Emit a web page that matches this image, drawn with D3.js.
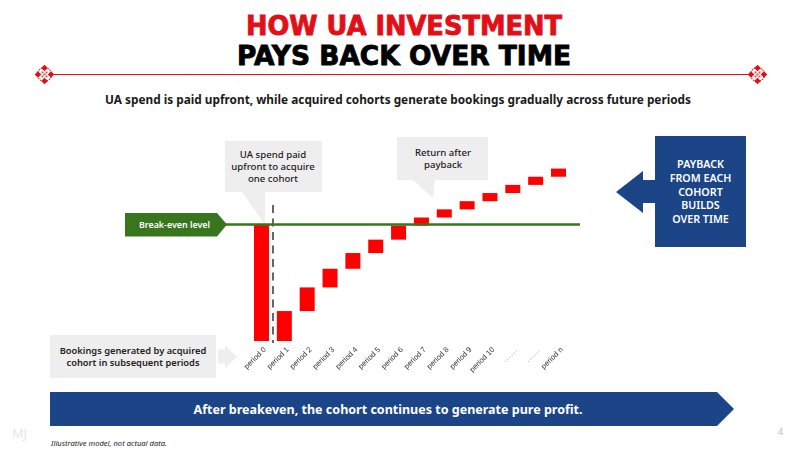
<!DOCTYPE html>
<html><head><meta charset="utf-8">
<script src="https://cdn.jsdelivr.net/npm/d3@7/dist/d3.min.js"></script>
<style>html,body{margin:0;padding:0;background:#fff}svg{display:block}</style>
</head><body><svg id="c" width="800" height="450"></svg>
<script>
const periodLabels = ["period 0","period 1","period 2","period 3","period 4","period 5","period 6","period 7","period 8","period 9","period 10","......","......","period n"];
const upfrontSpend = [100];
const cohortBookings = [25.7,20.3,16,13.5,11.5,12,7,7,7,7,7,7,7];
const breakEven = 100;
const titleLines = ["HOW UA INVESTMENT","PAYS BACK OVER TIME"];
const subtitle = "UA spend is paid upfront, while acquired cohorts generate bookings gradually across future periods";
const calloutSpend = ["UA spend paid","upfront to acquire","one cohort"];
const calloutReturn = ["Return after","payback"];
const calloutBookings = ["Bookings generated by acquired","cohort in subsequent periods"];
const sideLines = ["PAYBACK","FROM EACH","COHORT","BUILDS","OVER TIME"];

const RED="#ff0000", TITLE_RED="#e20f17", GREEN="#38761d", BLUE="#1c4587", GREY="#eeeeee", INK="#1a1a1a";
const BODY="'Noto Sans',sans-serif";
const svg=d3.select("#c");

const x=d3.scaleBand().domain(d3.range(periodLabels.length)).range([254,566]).paddingInner(0.344).paddingOuter(0);
const y=d3.scaleLinear().domain([0,100]).range([341,224.5]);

function label(t,px,py,size,weight,fill,opts={}){
  const e=svg.append("text").attr("x",px).attr("y",py).attr("font-size",size).attr("font-weight",weight)
    .attr("fill",fill).attr("font-family",opts.family||BODY).attr("text-anchor",opts.anchor||"middle").text(t);
  if(opts.len) e.attr("textLength",opts.len).attr("lengthAdjust",opts.adjust||"spacingAndGlyphs");
  if(opts.style) e.attr("font-style",opts.style);
  if(opts.stroke) e.attr("stroke",fill).attr("stroke-width",opts.stroke).attr("stroke-linejoin","miter");
  return e;
}
const TF="'DejaVu Sans',sans-serif";
label(titleLines[0],404,35,27.4,700,TITLE_RED,{family:TF,len:316,stroke:0.9});
label(titleLines[1],404,65,27.4,700,"#000",{family:TF,len:334,stroke:0.9});
svg.append("line").attr("x1",52).attr("x2",748).attr("y1",74.5).attr("y2",74.5).attr("stroke",TITLE_RED).attr("stroke-width",1.2);
function ornament(cx,cy){
  const g=svg.append("g").attr("transform",`translate(${cx},${cy})`);
  g.append("rect").attr("x",-7).attr("y",-7).attr("width",14).attr("height",14).attr("fill","#fff");
  g.append("circle").attr("r",7).attr("fill","none").attr("stroke",TITLE_RED).attr("stroke-width",1.1).attr("stroke-dasharray","1.3 1.1");
  [[0,-6.5],[0,6.5],[-6.5,0],[6.5,0]].forEach(([dx,dy])=>{
    g.append("path").attr("d",`M${dx},${dy-3.3}L${dx+3.3},${dy}L${dx},${dy+3.3}L${dx-3.3},${dy}Z`).attr("fill",TITLE_RED);
  });
  [[-2,-2],[2,-2],[-2,2],[2,2],[0,0]].forEach(([dx,dy])=>{
    g.append("rect").attr("x",dx-1).attr("y",dy-1).attr("width",2).attr("height",2).attr("fill",TITLE_RED).attr("opacity",.7);
  });
}
ornament(44.5,74.5);ornament(757.5,74.5);
label(subtitle,398,104,12.6,700,INK,{len:586});

const poly=(pts,fill)=>svg.append("path").attr("d",d3.line()(pts)+"Z").attr("fill",fill);
poly([[225,141],[322,141],[322,192],[265,192],[265,225],[242,192],[225,192]],GREY);
poly([[397,137],[488,137],[488,180],[435,180],[433,198],[413,180],[397,180]],GREY);
poly([[50,335],[216,335],[216,378],[50,378]],GREY);
poly([[218,349.5],[225,349.5],[225,345],[237,357],[225,368],[225,363.5],[218,363.5]],GREY);
calloutSpend.forEach((t,i)=>label(t,273,158+i*12,9.6,500,INK));
calloutReturn.forEach((t,i)=>label(t,443,156+i*12.4,9.6,500,INK));
calloutBookings.forEach((t,i)=>label(t,133,354+i*12.4,9.3,600,"#222"));

const cum=d3.cumsum(cohortBookings);
const bars=[{i:0,lo:0,hi:upfrontSpend[0]}].concat(cohortBookings.map((v,k)=>({i:k+1,lo:k?cum[k-1]:0,hi:cum[k]})));
svg.append("g").selectAll("rect").data(bars).join("rect")
  .attr("x",d=>x(d.i)).attr("width",x.bandwidth())
  .attr("y",d=>y(d.hi)).attr("height",d=>y(d.lo)-y(d.hi)).attr("fill",RED);

svg.append("line").attr("x1",273).attr("x2",273).attr("y1",205).attr("y2",343)
  .attr("stroke","#666").attr("stroke-width",2).attr("stroke-dasharray","8 5.5");

const by=y(breakEven);
svg.append("line").attr("x1",225).attr("x2",580).attr("y1",by).attr("y2",by).attr("stroke",GREEN).attr("stroke-width",2.4);
poly([[125,213],[217,213],[227,by],[217,236.5],[125,236.5]],GREEN);
label("Break-even level",174.5,228,8.9,600,"#fff");

const ax=svg.append("g").attr("transform","translate(0,345)").style("filter","grayscale(1)")
  .call(d3.axisBottom(x).tickSize(0).tickPadding(0).tickFormat(i=>periodLabels[i]));
ax.select(".domain").remove();
ax.selectAll("text").attr("font-family","'Liberation Sans',sans-serif").attr("font-size",7.6).attr("fill","#333")
  .attr("text-anchor","end").attr("dy",0).attr("y",0).attr("x",0)
  .attr("transform","translate(5,5) rotate(-45)");
ax.selectAll("text").filter(d=>periodLabels[d]==="......").attr("fill","#777").attr("letter-spacing",0.8);

poly([[655,136],[746,136],[746,247],[655,247],[655,203],[643,203],[643,213],[616,192],[643,171],[643,180],[655,180]],BLUE);
sideLines.forEach((t,i)=>label(t,700.5,168+i*13.75,10.7,600,"#fff"));

poly([[50,392],[717,392],[734,409],[717,426],[50,426]],BLUE);
label("After breakeven, the cohort continues to generate pure profit.",388,414,12.8,700,"#fff",{len:389});

label("Illustrative model, not actual data.",51,446,7.6,400,"#222",{anchor:"start",style:"italic",len:116});
label("MJ",19.5,438,13,300,"#d9d9d9");
label("4",780.5,435,9.5,400,"#bdbdbd");
</script></body></html>
